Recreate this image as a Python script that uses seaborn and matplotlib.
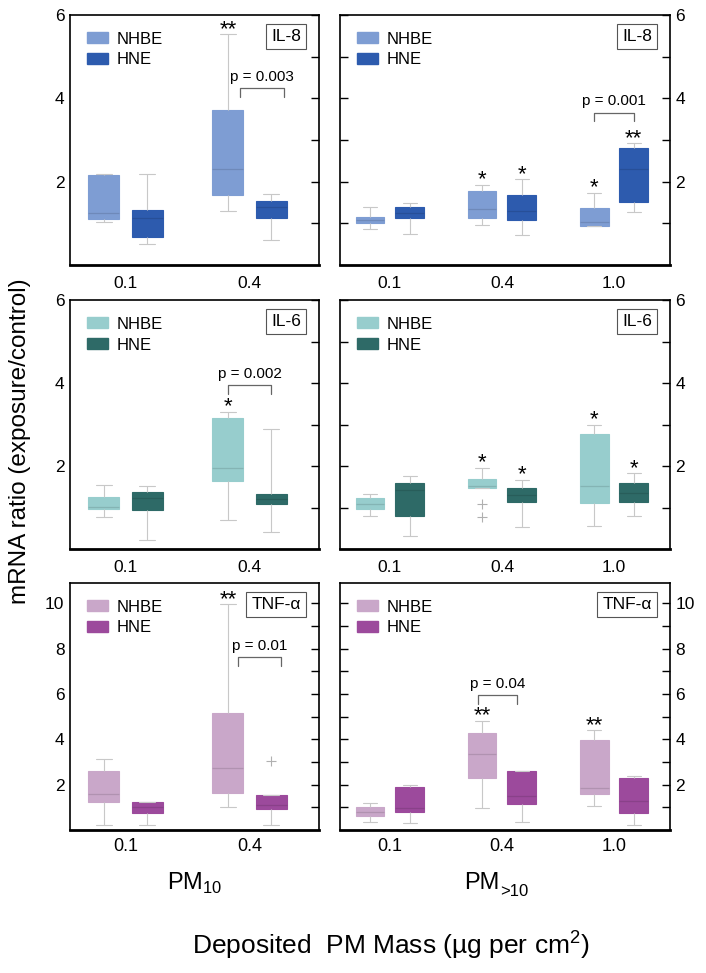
import numpy as np
import pandas as pd
import matplotlib
matplotlib.use("Agg")
import matplotlib.pyplot as plt
from matplotlib import font_manager
from matplotlib.patches import Patch
from matplotlib.ticker import FixedLocator
import seaborn as sns

sns.set_style("white")
installed = {f.name for f in font_manager.fontManager.ttflist}
narrow = "Liberation Sans Narrow" if "Liberation Sans Narrow" in installed else "Liberation Sans"
plt.rcParams["font.family"] = ["Liberation Sans", "DejaVu Sans"]
plt.rcParams["mathtext.fontset"] = "custom"
plt.rcParams["mathtext.rm"] = narrow
plt.rcParams["text.color"] = "black"
plt.rcParams["xtick.color"] = "black"
plt.rcParams["ytick.color"] = "black"

cells = ["NHBE", "HNE"]
doses_pm10 = ["0.1", "0.4"]
doses_gt10 = ["0.1", "0.4", "1.0"]

# each box: whisker low, Q1, median, Q3, whisker high
il8_pm10_nhbe = [[1.04, 1.11, 1.26, 2.15, 2.19], [1.29, 1.69, 2.31, 3.71, 5.54]]
il8_pm10_hne = [[0.50, 0.67, 1.12, 1.33, 2.18], [0.60, 1.14, 1.40, 1.54, 1.70]]
il8_gt10_nhbe = [[0.86, 1.02, 1.08, 1.16, 1.39], [0.96, 1.13, 1.35, 1.78, 1.92], [0.94, 0.94, 1.04, 1.36, 1.73]]
il8_gt10_hne = [[0.74, 1.12, 1.24, 1.39, 1.49], [0.71, 1.08, 1.29, 1.69, 2.06], [1.27, 1.51, 2.30, 2.80, 2.92]]

il6_pm10_nhbe = [[0.77, 0.97, 1.02, 1.26, 1.55], [0.69, 1.63, 1.94, 3.16, 3.31]]
il6_pm10_hne = [[0.21, 0.94, 1.22, 1.37, 1.53], [0.42, 1.08, 1.20, 1.33, 2.88]]
il6_gt10_nhbe = [[0.80, 0.96, 1.08, 1.24, 1.33], [1.47, 1.47, 1.53, 1.68, 1.96], [0.55, 1.12, 1.51, 2.78, 2.99]]
il6_gt10_hne = [[0.32, 0.79, 1.41, 1.60, 1.75], [0.54, 1.14, 1.30, 1.48, 1.67], [0.80, 1.14, 1.36, 1.58, 1.82]]

tnf_pm10_nhbe = [[0.22, 1.25, 1.61, 2.62, 3.14], [1.03, 1.63, 2.74, 5.15, 9.97]]
tnf_pm10_hne = [[0.22, 0.77, 1.00, 1.22, 1.25], [0.21, 0.94, 1.10, 1.56, 1.56]]
tnf_gt10_nhbe = [[0.37, 0.63, 0.81, 1.03, 1.18], [0.99, 2.31, 3.37, 4.27, 4.82], [1.05, 1.59, 1.87, 3.95, 4.40]]
tnf_gt10_hne = [[0.32, 0.78, 0.99, 1.91, 1.99], [0.37, 1.15, 1.52, 2.62, 2.62], [0.22, 0.77, 1.30, 2.31, 2.40]]

# outliers drawn as "+": (cell, dose, value)
il6_gt10_outliers = [("NHBE", "0.4", 1.08), ("NHBE", "0.4", 0.76)]
tnf_pm10_outliers = [("HNE", "0.4", 3.03)]

# significance marks versus control
il8_pm10_stars = (["", "**"], ["", ""])
il8_gt10_stars = (["", "*", "*"], ["", "*", "**"])
il6_pm10_stars = (["", "*"], ["", ""])
il6_gt10_stars = (["", "*", "*"], ["", "*", "*"])
tnf_pm10_stars = (["", "**"], ["", ""])
tnf_gt10_stars = (["", "**", "**"], ["", "", ""])

# NHBE vs HNE comparison: dose, bracket height, label, sideways shift
il8_pm10_pval = ("0.4", 4.24, "p = 0.003", 0.10)
il8_gt10_pval = ("1.0", 3.66, "p = 0.001", 0.0)
il6_pm10_pval = ("0.4", 3.95, "p = 0.002", 0.0)
tnf_pm10_pval = ("0.4", 7.64, "p = 0.01", 0.08)
tnf_gt10_pval = ("0.4", 5.96, "p = 0.04", -0.04)

il8_colors = ["#7e9dd3", "#2d5bae"]
il6_colors = ["#97cdcd", "#2e6a67"]
tnf_colors = ["#c9a7c9", "#9c4a9c"]

panels = [
    ("IL-8", doses_pm10, il8_pm10_nhbe, il8_pm10_hne, il8_pm10_stars, il8_pm10_pval, [], il8_colors, 6),
    ("IL-8", doses_gt10, il8_gt10_nhbe, il8_gt10_hne, il8_gt10_stars, il8_gt10_pval, [], il8_colors, 6),
    ("IL-6", doses_pm10, il6_pm10_nhbe, il6_pm10_hne, il6_pm10_stars, il6_pm10_pval, [], il6_colors, 6),
    ("IL-6", doses_gt10, il6_gt10_nhbe, il6_gt10_hne, il6_gt10_stars, None, il6_gt10_outliers, il6_colors, 6),
    ("TNF-α", doses_pm10, tnf_pm10_nhbe, tnf_pm10_hne, tnf_pm10_stars, tnf_pm10_pval, tnf_pm10_outliers, tnf_colors, 10.9),
    ("TNF-α", doses_gt10, tnf_gt10_nhbe, tnf_gt10_hne, tnf_gt10_stars, tnf_gt10_pval, [], tnf_colors, 10.9),
]

W, H = 706, 973
fig = plt.figure(figsize=(W / 100, H / 100), dpi=100)

col_px = [(70, 319), (340, 670)]
row_px = [(15, 265), (300, 549), (583, 830)]
box_width, box_gap = 0.7, 0.28

for i, (name, doses, nhbe, hne, stars, pval, outliers, colors, ymax) in enumerate(panels):
    r, c = divmod(i, 2)
    x0, x1 = col_px[c]
    y0, y1 = row_px[r]
    ax = fig.add_axes([x0 / W, 1 - y1 / H, (x1 - x0) / W, (y1 - y0) / H])

    rows = []
    for cell, boxes in zip(cells, [nhbe, hne]):
        for dose, vals in zip(doses, boxes):
            for v in vals:
                rows.append({"dose": dose, "cell": cell, "ratio": v})
    df = pd.DataFrame(rows)

    sns.boxplot(data=df, x="dose", y="ratio", hue="cell", order=doses, hue_order=cells,
                palette=colors, saturation=1, width=box_width, gap=box_gap,
                whis=(0, 100), showfliers=False, linecolor="#c8c8c8", linewidth=0.8,
                medianprops={"color": "black", "alpha": 0.12, "linewidth": 0.9},
                legend=False, ax=ax)
    for p in ax.patches:
        p.set_edgecolor(p.get_facecolor())

    offsets = {"NHBE": -box_width / 4, "HNE": box_width / 4}
    for cell, dose, v in outliers:
        ax.scatter(doses.index(dose) + offsets[cell], v, marker="+", s=45,
                   color="#b0b0b0", linewidths=0.8, zorder=3)

    for cell, boxes, marks in zip(cells, [nhbe, hne], stars):
        for j, (vals, m) in enumerate(zip(boxes, marks)):
            if m:
                ax.annotate(m, (j + offsets[cell], max(vals)), xytext=(0, 3.5),
                            textcoords="offset points", ha="center", va="center",
                            fontsize=16, color="black")

    if pval is not None:
        dose, yb, label, shift = pval
        j = doses.index(dose)
        xa, xb = j - box_width / 4 + shift, j + box_width / 4 + shift
        leg = ymax * 0.035
        ax.plot([xa, xa, xb, xb], [yb - leg, yb, yb, yb - leg], color="#666666", lw=0.9)
        ax.annotate(label, ((xa + xb) / 2, yb), xytext=(0, 3), textcoords="offset points",
                    ha="center", va="bottom", fontsize=11)

    if c == 0:
        ax.set_xlim(-0.448, 1.56)
    else:
        ax.set_xlim(-0.446, 2.5)
    ax.set_ylim(0, ymax)
    top = int(ymax)
    ax.yaxis.set_major_locator(FixedLocator(list(range(2, top + 1, 2))))
    ax.yaxis.set_minor_locator(FixedLocator(list(range(1, top + 1, 2))))
    ax.set_xlabel("")
    ax.set_ylabel("")

    if c == 0:
        ax.tick_params(axis="y", which="both", left=False, right=True, labelleft=True,
                       labelright=False, direction="in", length=6, width=1, pad=4,
                       labelsize=12.5, colors="black")
    else:
        ax.tick_params(axis="y", which="both", left=True, right=True, labelleft=False,
                       labelright=True, direction="in", length=6, width=1, pad=4,
                       labelsize=12.5, colors="black")
    ax.tick_params(axis="x", bottom=False, length=0, pad=6 if r == 2 else 8,
                   labelsize=12.5, colors="black")
    if r == 2:
        for lbl in ax.get_xticklabels():
            lbl.set_fontfamily(narrow)
            lbl.set_fontsize(13)

    for side, sp in ax.spines.items():
        sp.set_visible(True)
        sp.set_color("black")
        sp.set_linewidth(2.0 if side == "bottom" else 1.2)

    handles = [Patch(facecolor=col, edgecolor=col) for col in colors]
    ax.legend(handles, cells, loc="upper left", frameon=False, fontsize=12,
              handlelength=1.3, handleheight=0.65, handletextpad=0.5,
              labelspacing=0.35, borderaxespad=0.6, borderpad=0.4)

    ax.annotate(name, (1, 1), xycoords="axes fraction", xytext=(-13, -10),
                textcoords="offset points", ha="right", va="top", fontsize=12.5,
                bbox=dict(boxstyle="square,pad=0.3", fc="white", ec="#555555", lw=0.8))

fig.text(20 / W, 1 - 441 / H, "mRNA ratio (exposure/control)", rotation=90,
         ha="center", va="center", fontsize=17.5)
fig.text(194.5 / W, 1 - 883 / H, r"PM$_{\mathrm{10}}$", ha="center", va="center",
         fontsize=17, family=narrow)
pm_text = fig.text(482 / W, 1 - 883 / H, "PM", ha="center", va="center",
                   fontsize=17, family=narrow)
fig.axes[-1].annotate(">10", xy=(1, 0.12), xycoords=pm_text, ha="left", va="center",
                      fontsize=12, family=narrow, annotation_clip=False)
fig.text(391 / W, 1 - 945 / H, r"Deposited  PM Mass (µg per cm$^{\mathrm{2}}$)",
         ha="center", va="center", fontsize=19, family=narrow)

fig.savefig("out.png", dpi=100)
